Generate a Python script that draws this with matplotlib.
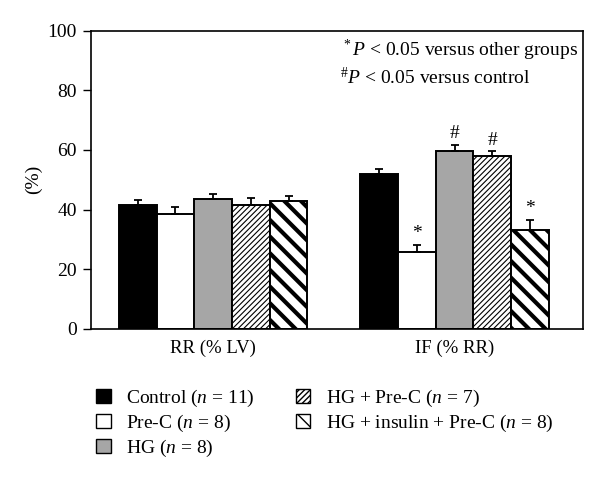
import matplotlib

matplotlib.use("Agg")
import matplotlib.pyplot as plt
from matplotlib.patches import Patch

plt.rcParams["font.family"] = ["Liberation Serif", "DejaVu Serif"]
plt.rcParams["mathtext.fontset"] = "custom"
plt.rcParams["mathtext.it"] = "Liberation Serif:italic"
plt.rcParams["mathtext.rm"] = "Liberation Serif"

groups = ["RR (% LV)", "IF (% RR)"]
series = [
    "Control ($n$ = 11)",
    "Pre-C ($n$ = 8)",
    "HG ($n$ = 8)",
    "HG + Pre-C ($n$ = 7)",
    "HG + insulin + Pre-C ($n$ = 8)",
]
means = [
    [41.5, 51.8],
    [38.5, 25.8],
    [43.5, 59.5],
    [41.5, 58.0],
    [42.8, 33.0],
]
errs = [
    [1.6, 1.8],
    [2.5, 2.2],
    [1.8, 2.2],
    [2.5, 1.5],
    [1.6, 3.6],
]
marks = [
    ["", ""],
    ["", "*"],
    ["", "#"],
    ["", "#"],
    ["", "*"],
]

faces = ["black", "white", "#a6a6a6", "white", "white"]
hatches = [None, None, None, "//////", "\\\\"]
hatch_lw = [1.0, 1.0, 1.0, 0.8, 3.0]

fig = plt.figure(figsize=(6.0, 4.82), dpi=100)
ax = fig.add_axes([0.151, 0.318, 0.821, 0.618])

width = 0.0765
starts = [0.0575, 0.5475]
handles = []
for i, name in enumerate(series):
    xs = [s + width * (i + 0.5) for s in starts]
    bars = ax.bar(xs, means[i], width=width, color=faces[i], edgecolor="black",
                  linewidth=1.4, hatch=hatches[i], zorder=2)
    for b in bars:
        try:
            b.set_hatch_linewidth(hatch_lw[i])
        except AttributeError:
            pass
    ax.errorbar(xs, means[i], yerr=[[0, 0], errs[i]], fmt="none", ecolor="black",
                elinewidth=1.3, capsize=3, capthick=1.3, zorder=3)
    for x, m, e, t in zip(xs, means[i], errs[i], marks[i]):
        if t:
            ax.text(x, m + e + 1.0, t, ha="center", va="bottom", fontsize=14)
    h = Patch(facecolor=faces[i], edgecolor="black", hatch=hatches[i], linewidth=1.0)
    try:
        h.set_hatch_linewidth(hatch_lw[i] * 0.7)
    except AttributeError:
        pass
    handles.append(h)

ax.set_xlim(0, 1)
ax.set_ylim(0, 100)
ax.set_yticks([0, 20, 40, 60, 80, 100])
ax.tick_params(axis="y", direction="out", length=6, width=1, labelsize=14, pad=4)
ax.set_xticks([starts[0] + 2.5 * width, starts[1] + 2.5 * width])
ax.set_xticklabels(groups, fontsize=13.5)
ax.tick_params(axis="x", length=0, pad=8)
for sp in ax.spines.values():
    sp.set_linewidth(1.2)
ax.set_ylabel("(%)", fontsize=14, labelpad=4)

ax.text(0.508, 0.975, "$^*P$ < 0.05 versus other groups", transform=ax.transAxes,
        ha="left", va="top", fontsize=14)
ax.text(0.506, 0.88, "$^{\\#}P$ < 0.05 versus control", transform=ax.transAxes,
        ha="left", va="top", fontsize=14)

leg_kw = dict(loc="upper left", frameon=False, fontsize=14, handlelength=0.75,
              handleheight=0.75, handletextpad=0.8, labelspacing=0.2,
              borderpad=0, borderaxespad=0)
fig.legend(handles[:3], series[:3], bbox_to_anchor=(0.16, 0.195), **leg_kw)
fig.legend(handles[3:], series[3:], bbox_to_anchor=(0.493, 0.195), **leg_kw)

fig.savefig("out.png", dpi=100)
